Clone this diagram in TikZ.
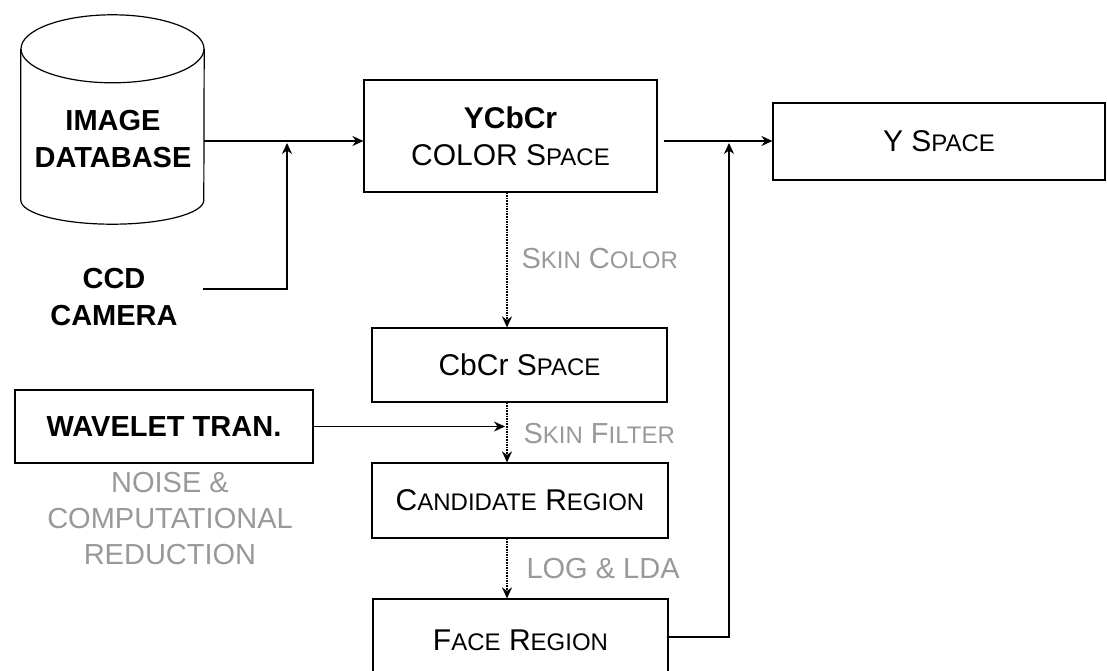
\documentclass[tikz,border=0pt]{standalone}
\usepackage{fontspec}
\setmainfont{Liberation Sans}
\usetikzlibrary{arrows.meta}
\newcommand\fakesc[2]{#1{\fontsize{24}{24}\selectfont #2}}
\begin{document}
\begin{tikzpicture}[x=1pt,y=-1pt,
  box/.style={draw, line width=1.2pt, inner sep=0pt, align=center},
  conn/.style={line width=1.5pt, -{Stealth[length=11pt,width=10pt]}},
  dconn/.style={line width=1.6pt, densely dotted, -{Stealth[length=11pt,width=10pt]}},
  bigb/.style={font=\fontsize{29}{37}\selectfont\bfseries, align=center},
  regf/.style={font=\fontsize{30}{37}\selectfont},
  lbl/.style={font=\fontsize{29}{36}\selectfont, text=black!40, anchor=west},
]
\useasboundingbox (0,0) rectangle (1107,671);
% cylinder (body node + drawn outline)
\node[minimum width=183pt, minimum height=151pt, inner sep=0pt] (db) at (112.5,124.5) {};
\draw[line width=1.2pt] (db.north west) -- (db.south west)
  arc[start angle=180, end angle=360, x radius=91.5pt, y radius=24pt]
  -- (db.north east);
\draw[line width=1.2pt] (db.north) ellipse[x radius=91.5pt, y radius=34pt];
\node[bigb] (dbtext) at (113,139) {IMAGE\\DATABASE};
\node[bigb] (ccd) at (114,297) {CCD\\CAMERA};
% boxes
\node[box, regf, minimum width=293pt, minimum height=112pt] (ycbcr) at (510.5,136)
  {{\bfseries YCbCr}\\COLOR \fakesc{S}{PACE}};
\node[box, regf, minimum width=332pt, minimum height=77pt] (yspace) at (939,141.5)
  {Y \fakesc{S}{PACE}};
\node[box, regf, minimum width=295pt, minimum height=74pt] (cbcr) at (519.5,365)
  {CbCr \fakesc{S}{PACE}};
\node[box, bigb, minimum width=298pt, minimum height=73pt] (wavelet) at (164,426.5)
  {WAVELET TRAN.};
\node[box, regf, minimum width=296pt, minimum height=75pt] (cand) at (520,500.5)
  {\fakesc{C}{ANDIDATE} \fakesc{R}{EGION}};
\node[box, regf, minimum width=295pt, minimum height=82pt] (face) at (520.5,640)
  {\fakesc{F}{ACE} \fakesc{R}{EGION}};
% labels
\node[lbl] (l1) at (518,259) {\fakesc{S}{KIN} \fakesc{C}{OLOR}};
\node[lbl] (l2) at (520,434) {\fakesc{S}{KIN} \fakesc{F}{ILTER}};
\node[lbl] (l3) at (523,569) {LOG \& LDA};
\node[font=\fontsize{29}{36}\selectfont, text=black!40, align=center] (noise) at (170,519)
  {NOISE \&\\COMPUTATIONAL\\REDUCTION};
% helper coordinates
\coordinate (mainrow) at (0,141);
\coordinate (colx) at (507,0);
\coordinate (ccdout) at (203,289);
\coordinate (j1) at (287,143);
\coordinate (j2) at (729,143);
\coordinate (facerow) at (0,637);
% connectors
\draw[conn] (db.east |- mainrow) -- (ycbcr.west |- mainrow);
\draw[conn] (ccdout) -| (j1);
\draw[conn] ([xshift=6pt]ycbcr.east |- mainrow) -- (yspace.west |- mainrow);
\draw[conn] (face.east |- facerow) -| (j2);
\draw[dconn] (ycbcr.south -| colx) -- (cbcr.north -| colx);
\draw[dconn] (cbcr.south -| colx) -- (cand.north -| colx);
\draw[dconn] (cand.south -| colx) -- (face.north -| colx);
\draw[conn] (wavelet.east) -- ([xshift=-2pt]colx |- wavelet.east);
\end{tikzpicture}
\end{document}
